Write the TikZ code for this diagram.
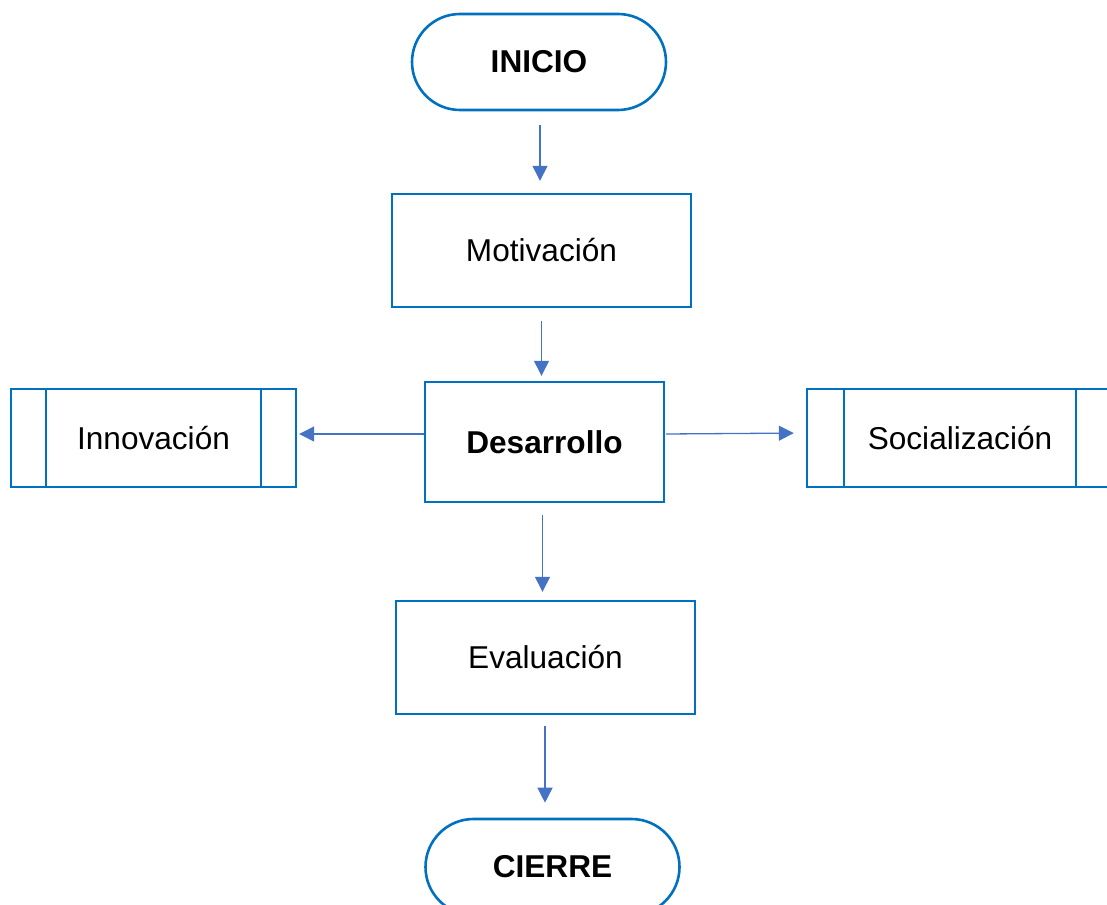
\documentclass[tikz,border=0pt]{standalone}
\usepackage{fontspec}
\setmainfont{Liberation Sans}
\usetikzlibrary{positioning,arrows.meta,calc}
\definecolor{borde}{HTML}{0070C0}
\definecolor{flechaazul}{HTML}{4472C4}
\tikzset{
	terminal/.style={rectangle, rounded corners=48pt, minimum width=254pt, minimum height=96pt, line width=2.6pt, draw=borde},
	proceso/.style={rectangle, minimum width=299pt, minimum height=113pt, line width=2.4pt, draw=borde},
	subproc/.style={rectangle, minimum height=98pt, line width=2.4pt, draw=borde},
	connect/.style={-{Triangle[length=15pt,width=15pt]}, line width=1.3pt, draw=flechaazul, color=flechaazul}
}

\begin{document}
\begin{tikzpicture}[x=1pt,y=-1pt, every node/.style={font=\fontsize{31.6}{38}\selectfont}]
\path[use as bounding box, clip] (0,0) rectangle (1107,904);
\node[terminal] (inicio) at (539,62) {\bfseries INICIO};
\node[proceso] (motiv) at (541.5,250.5) {Motivación};
\node[proceso, minimum width=239pt, minimum height=120pt] (desarr) at (544.5,442) {\bfseries Desarrollo};
\node[subproc, minimum width=285pt] (innov) at (153.5,438) {Innovación};
\node[subproc, minimum width=306pt] (social) at (960,438) {Socialización};
\node[proceso] (eval) at (545.5,657.5) {Evaluación};
\node[terminal] (cierre) at (552.5,867) {\bfseries CIERRE};

% the double side lines of the subprocess boxes
\draw[line width=2.4pt, borde] ([xshift=36pt]innov.north west) -- ([xshift=36pt]innov.south west);
\draw[line width=2.4pt, borde] ([xshift=-36pt]innov.north east) -- ([xshift=-36pt]innov.south east);
\draw[line width=2.4pt, borde] ([xshift=38pt]social.north west) -- ([xshift=38pt]social.south west);
\draw[line width=2.4pt, borde] ([xshift=-38pt]social.north east) -- ([xshift=-38pt]social.south east);

\draw[connect, shorten <=14pt, shorten >=12pt] ($(inicio.south)+(1,0)$) -- ($(inicio.south |- motiv.north)+(1,0)$);
\draw[connect, shorten <=13pt, shorten >=5pt] (motiv.south) -- (motiv.south |- desarr.north);
\draw[connect, shorten >=2pt] ($(desarr.west)+(0,-8)$) -- ($(innov.east)+(0,-4)$);
\draw[connect, shorten <=1pt, shorten >=12pt] ($(desarr.east)+(0,-8)$) -- ($(social.west)+(0,-5)$);
\draw[connect, shorten <=12pt, shorten >=8pt] ($(desarr.south)+(-2,0)$) -- ($(desarr.south |- eval.north)+(-2,0)$);
\draw[connect, shorten <=11pt, shorten >=15pt] ($(eval.south)+(-0.5,0)$) -- ($(eval.south |- cierre.north)+(-0.5,0)$);
\end{tikzpicture}
\end{document}
